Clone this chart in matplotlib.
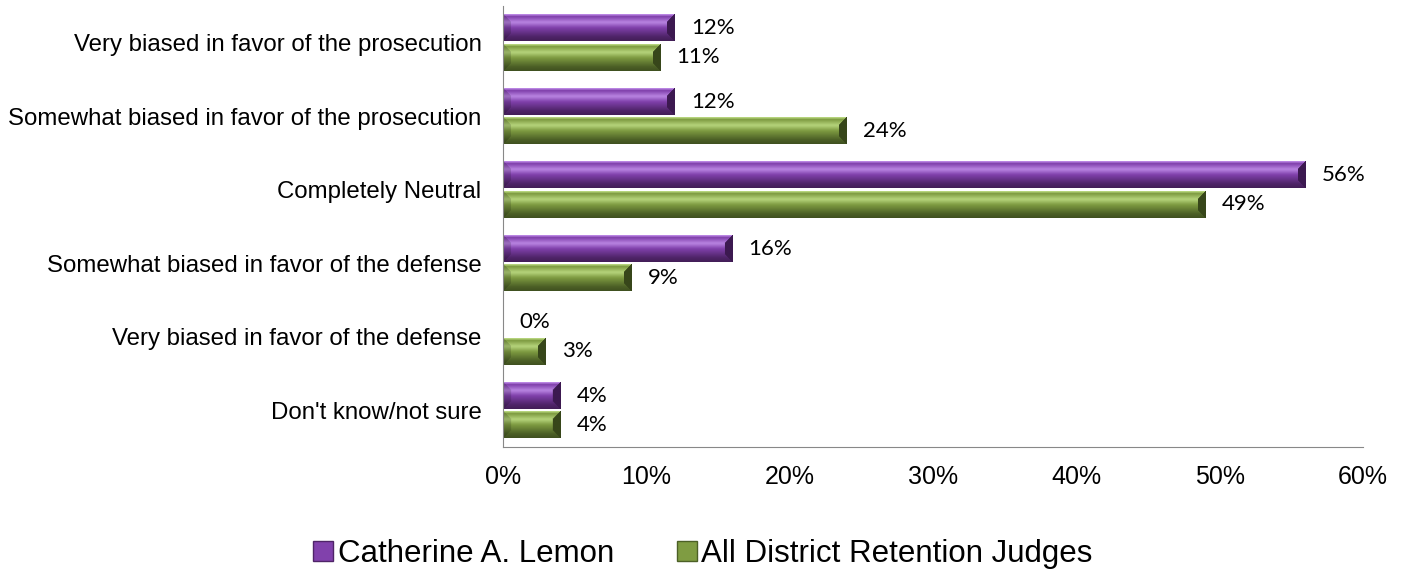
import numpy as np
import matplotlib
matplotlib.use("Agg")
import matplotlib.pyplot as plt
from matplotlib.colors import to_rgb
from matplotlib.patches import Patch

categories = [
    "Very biased in favor of the prosecution",
    "Somewhat biased in favor of the prosecution",
    "Completely Neutral",
    "Somewhat biased in favor of the defense",
    "Very biased in favor of the defense",
    "Don't know/not sure",
]
series_names = ["Catherine A. Lemon", "All District Retention Judges"]
lemon = [12, 12, 56, 16, 0, 4]
all_judges = [11, 24, 49, 9, 3, 4]
xticks = [0, 10, 20, 30, 40, 50, 60]

palettes = {
    "purple": dict(light="#B985E2", mid="#8141AC", dark="#4F2468", end="#3C1950"),
    "green": dict(light="#B6D47C", mid="#7F9C42", dark="#4C6026", end="#37461A"),
}

fig = plt.figure(figsize=(14.05, 5.73), dpi=100)
ax = fig.add_axes([503/1405, 1-447/573, (1363-503)/1405, (447-6)/573])
ax.set_xlim(0, 60)
ax.set_ylim(len(categories)-0.5, -0.5)

ax.set_xticks(xticks)
ax.set_xticklabels([f"{v}%" for v in xticks], fontsize=18, family="Liberation Sans")
ax.set_yticks(range(len(categories)))
ax.set_yticklabels(categories, fontsize=17.3, family="Liberation Sans")
ax.tick_params(axis="both", length=0)
ax.tick_params(axis="x", pad=13)
ax.tick_params(axis="y", pad=15.5)
for s in ["top", "right"]:
    ax.spines[s].set_visible(False)
ax.spines["left"].set_color("#888888")
ax.spines["bottom"].set_color("#888888")

h = 0.36
off = 0.2


def bar_texture(wpx, hpx, pal):
    wpx = max(int(round(wpx)), 1)
    hpx = max(int(round(hpx)), 1)
    L = np.array(to_rgb(pal["light"])); M = np.array(to_rgb(pal["mid"]))
    D = np.array(to_rgb(pal["dark"])); E = np.array(to_rgb(pal["end"]))
    t = np.linspace(0, 1, hpx)
    stops_t = [0, 0.08, 0.3, 0.5, 0.85, 1.0]
    stops_c = [L, M, L, M, D, D * 0.85]
    prof = np.stack([np.interp(t, stops_t, [c[k] for c in stops_c]) for k in range(3)], axis=1)
    img = np.repeat(prof[:, None, :], wpx, axis=1)
    b = min(8, wpx / 2)
    jj, ii = np.meshgrid(np.arange(wpx), np.arange(hpx))
    dr = wpx - 1 - jj
    dl = jj
    dt = ii
    db = hpx - 1 - ii
    right = (dr < b) & (dr <= dt) & (dr <= db)
    left = (dl < b) & (dl <= dt) & (dl <= db)
    img[right] = E
    img[left] = img[left] * 0.85
    return img


fig.canvas.draw()
for vals, sgn, pname in [(lemon, -1, "purple"), (all_judges, 1, "green")]:
    pal = palettes[pname]
    for i, v in enumerate(vals):
        yc = i + sgn * off
        y0, y1 = yc - h/2, yc + h/2
        if v > 0:
            p0 = ax.transData.transform((0, y0))
            p1 = ax.transData.transform((v, y1))
            wpx = abs(p1[0] - p0[0]); hpx = abs(p1[1] - p0[1])
            img = bar_texture(wpx, hpx, pal)
            ax.imshow(img, extent=[0, v, y1, y0], aspect="auto", interpolation="bilinear", zorder=2)
        ax.annotate(f"{v}%", (v, yc), xytext=(16, 0), textcoords="offset pixels",
                    va="center", ha="left", fontsize=16, family="Lato", color="#000000")

ax.set_xlim(0, 60)
ax.set_ylim(len(categories)-0.5, -0.5)

handles = [Patch(facecolor=palettes["purple"]["mid"], edgecolor=palettes["purple"]["dark"], linewidth=1),
           Patch(facecolor=palettes["green"]["mid"], edgecolor=palettes["green"]["dark"], linewidth=1)]
fig.legend(handles, series_names, loc="center", bbox_to_anchor=(703/1405, 1-554/573), ncol=2,
           frameon=False, prop={"family": "Liberation Sans", "size": 22.5},
           handlelength=0.64, handleheight=0.64, handletextpad=0.15, columnspacing=2.0,
           borderpad=0)

fig.savefig("out.png", dpi=100)
